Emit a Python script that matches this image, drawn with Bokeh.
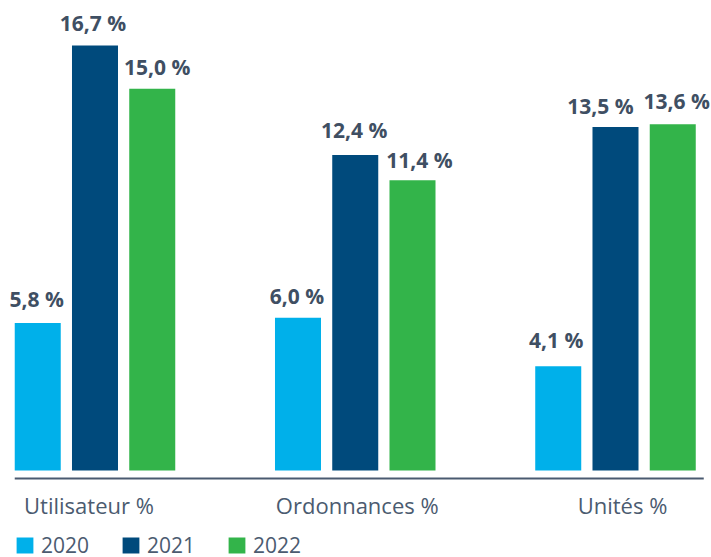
from bokeh.plotting import figure
from bokeh.models import ColumnDataSource, Range1d, Legend, LegendItem, LabelSet
from bokeh.core.properties import value
from bokeh.embed import file_html
from bokeh.resources import INLINE

categories = ["Utilisateur %", "Ordonnances %", "Unités %"]
years = ["2020", "2021", "2022"]
v2020 = [5.8, 6.0, 4.1]
v2021 = [16.7, 12.4, 13.5]
v2022 = [15.0, 11.4, 13.6]
series = [v2020, v2021, v2022]

# styling / placement (kept apart from the data)
colors = ["#00b0ea", "#004a7c", "#33b44a"]
offsets = [-0.22, 0.0, 0.22]
bar_width = 0.1768
label_dx = [[-1, -1, -2], [-2, -1, -15], [5, 7, 4]]          # px, collision nudges
label_dy = [[16, 14, 18], [14, 17, 13], [14, 12, 15]]        # px above bar top
cat_dx = [-6, 2, 7]                                            # px nudges of category labels
cat_dy = -43                                                   # px, category label baseline below zero
axis_gap = 8                                                   # px between bars and axis line

FONT = "Open Sans"
LABEL_COLOR = "#3f4f63"
AXIS_TEXT_COLOR = "#4b5b70"
AXIS_LINE_COLOR = "#4a5a70"

W, H = 711, 557
y_lo, y_hi = -3.418, 18.467
px_per_unit = H / (y_hi - y_lo)

p = figure(width=W, height=H, output_backend="svg", toolbar_location=None,
           x_range=Range1d(-0.3631, 2.3689), y_range=Range1d(y_lo, y_hi),
           x_axis_location=None, y_axis_location=None,
           min_border=0, outline_line_color=None,
           background_fill_color="white", border_fill_color="white")
p.grid.visible = False

items = []
for i, (yr, vals) in enumerate(zip(years, series)):
    src = ColumnDataSource(dict(
        x=[j + offsets[i] for j in range(len(categories))],
        top=vals,
        label=[f"{v:.1f}".replace(".", ",") + " %" for v in vals],
        dx=label_dx[i],
        dy=label_dy[i],
    ))
    r = p.vbar(x="x", top="top", bottom=0, width=bar_width, source=src,
               fill_color=colors[i], line_color=None)
    p.add_layout(LabelSet(x="x", y="top", text="label", source=src,
                          x_offset="dx", y_offset="dy",
                          text_align="center", text_baseline="alphabetic",
                          text_font=value(FONT), text_font_style="bold",
                          text_font_size="21px", text_color=LABEL_COLOR))
    items.append(LegendItem(label=yr, renderers=[r]))

# baseline (axis line) spanning the bar groups
n = len(categories)
x_left = offsets[0] - bar_width / 2
x_right = (n - 1) + offsets[-1] + bar_width / 2 + 8 / 260.25
y_axis_line = -axis_gap / px_per_unit
p.segment(x0=[x_left], x1=[x_right], y0=[y_axis_line], y1=[y_axis_line],
          line_color=AXIS_LINE_COLOR, line_width=2)

# category labels
cat_src = ColumnDataSource(dict(x=list(range(n)), y=[0] * n, text=categories, dx=cat_dx))
p.add_layout(LabelSet(x="x", y="y", text="text", source=cat_src,
                      x_offset="dx", y_offset=cat_dy,
                      text_align="center", text_baseline="alphabetic",
                      text_font=value(FONT), text_font_size="22px",
                      text_color=AXIS_TEXT_COLOR))

legend = Legend(items=items, orientation="horizontal", location=(14, -2),
                glyph_width=21, glyph_height=20, label_standoff=6, spacing=31,
                padding=0, margin=0, border_line_color=None,
                background_fill_alpha=0,
                label_text_font=FONT, label_text_font_size="21px",
                label_text_color=AXIS_TEXT_COLOR)
p.add_layout(legend, "center")

open("out.html", "w").write(file_html(p, INLINE))
